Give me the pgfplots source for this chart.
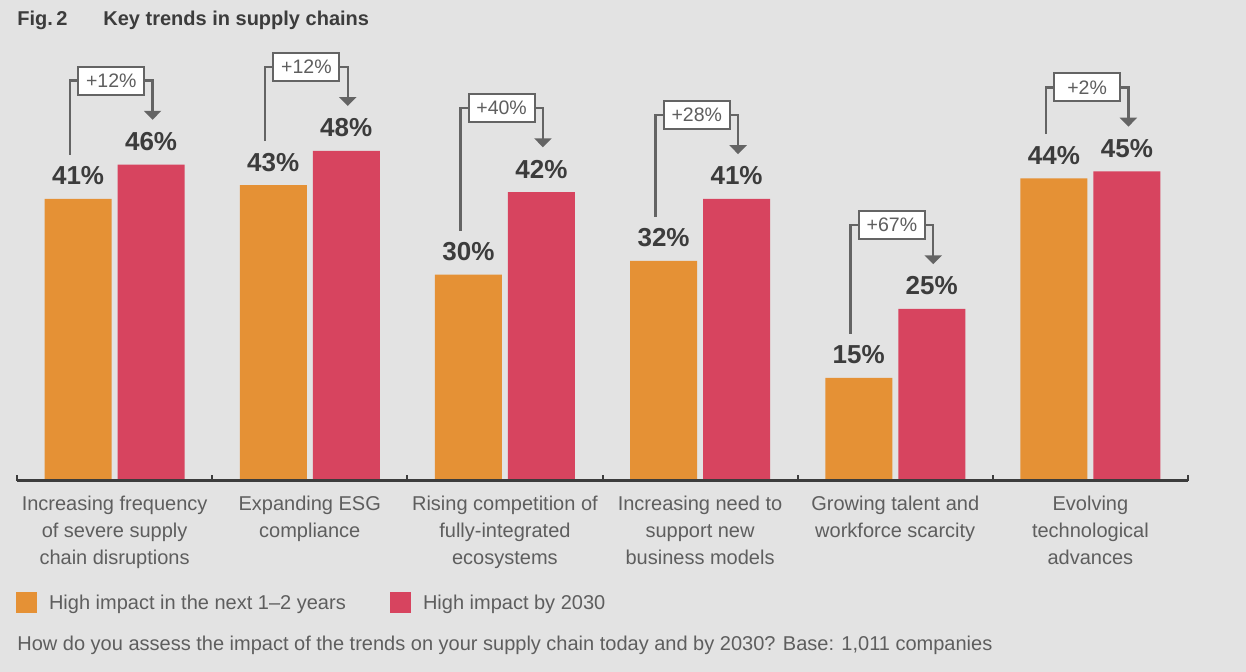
\documentclass[border=0pt]{standalone}
\usepackage{fontspec}
\setmainfont{Liberation Sans}
\usepackage{pgfplots}
\pgfplotsset{compat=1.18}
\usetikzlibrary{arrows.meta}
\definecolor{bg}{HTML}{E3E3E3}
\definecolor{barorange}{HTML}{E59135}
\definecolor{barred}{HTML}{D7445F}
\definecolor{dark}{HTML}{3C3C3C}
\definecolor{labgray}{HTML}{5E5E5E}
\definecolor{anncol}{HTML}{646464}

% #1 = category index, #2 = near-term value, #3 = 2030 value, #4 = change label
\newcommand\ann[4]{%
  \draw[anncol, line width=1.2pt] (axis cs:{#1-0.2285},{#2+6.4}) |- (axis cs:{#1-0.186},{#3+12.2});
  \draw[anncol, line width=1.2pt, -{Triangle[width=8.5pt,length=4.5pt]}] (axis cs:{#1+0.152},{#3+12.2}) -| (axis cs:{#1+0.1947},{#3+6.5});
  \node[draw=anncol, line width=1pt, fill=white, minimum width=33pt, minimum height=14pt, inner sep=0pt,
        font=\fontsize{9.75pt}{11pt}\selectfont, text=labgray] at (axis cs:{#1-0.017},{#3+12.2}) {#4};
}

\begin{document}
\begin{tikzpicture}
\useasboundingbox (0,0) rectangle (623pt,336pt);
\fill[bg] (0,0) rectangle (623pt,336pt);
\node[anchor=base west, inner sep=0pt, font=\bfseries\fontsize{10pt}{12pt}\selectfont, text=dark] at (8.5pt,323pt) {Fig.\,2};
\node[anchor=base west, inner sep=0pt, font=\bfseries\fontsize{10pt}{12pt}\selectfont, text=dark] at (51.5pt,323pt) {Key trends in supply chains};
\node[anchor=base west, inner sep=0pt, font=\fontsize{10pt}{12pt}\selectfont, text=labgray] at (8.5pt,10.5pt) {How do you assess the impact of the trends on your supply chain today and by 2030? Base: 1,011 companies};
\begin{axis}[
  at={(8.5pt,95.5pt)}, anchor=south west,
  scale only axis, width=585.5pt, height=240.5pt,
  xmin=-0.5, xmax=5.5, ymin=0, ymax=69.913,
  axis x line=bottom, axis y line=none,
  x axis line style={-, line width=1.5pt, draw=dark},
  xtick={0,...,5},
  xticklabels={
    {Increasing frequency\\of severe supply\\chain disruptions},
    {Expanding ESG\\compliance},
    {Rising competition of\\fully-integrated\\ecosystems},
    {Increasing need to\\support new\\business models},
    {Growing talent and\\workforce scarcity},
    {Evolving\\technological\\advances}},
  major tick length=0pt,
  minor xtick={-0.5,0.5,...,5.5},
  minor tick length=3pt,
  tick align=inside,
  minor tick style={line width=1pt, draw=dark},
  xticklabel style={anchor=north, inner sep=0pt, yshift=-7.2pt, align=center,
    font=\fontsize{10pt}{13.5pt}\selectfont, text=labgray},
  clip=false, axis on top,
  /pgf/number format/assume math mode=true,
  nodes near coords={\pgfmathprintnumber{\pgfplotspointmeta}\%},
  every node near coord/.append style={anchor=base, yshift=7pt, inner sep=0pt,
    font=\bfseries\fontsize{13pt}{15pt}\selectfont, text=dark},
  legend columns=2,
  legend cell align=left,
  legend style={draw=none, fill=none, inner sep=0pt, outer sep=0pt,
    at={(-0.00085,-0.253)}, anchor=west,
    nodes={inner sep=0pt, text=labgray, font=\fontsize{10pt}{12pt}\selectfont},
    /tikz/every odd column/.append style={column sep=6pt},
    /tikz/every even column/.append style={column sep=0pt}},
]
\addplot[ybar, bar width=33.5pt, bar shift=-18.25pt, fill=barorange, draw=none,
  every node near coord/.append style={xshift=-18.25pt},
  legend image code/.code={\fill[barorange] (0pt,-4.5pt) rectangle (10.5pt,6pt);}]
  coordinates {(0,41) (1,43) (2,30) (3,32) (4,15) (5,44)};
\addlegendentry{\makebox[170.5pt][l]{High impact in the next 1--2 years}}
\addplot[ybar, bar width=33.5pt, bar shift=18.25pt, fill=barred, draw=none,
  every node near coord/.append style={xshift=18.25pt},
  legend image code/.code={\fill[barred] (0pt,-4.5pt) rectangle (10.5pt,6pt);}]
  coordinates {(0,46) (1,48) (2,42) (3,41) (4,25) (5,45)};
\addlegendentry{High impact by 2030}
\ann{0}{41}{46}{+12\%}
\ann{1}{43}{48}{+12\%}
\ann{2}{30}{42}{+40\%}
\ann{3}{32}{41}{+28\%}
\ann{4}{15}{25}{+67\%}
\ann{5}{44}{45}{+2\%}
\end{axis}
\end{tikzpicture}
\end{document}
